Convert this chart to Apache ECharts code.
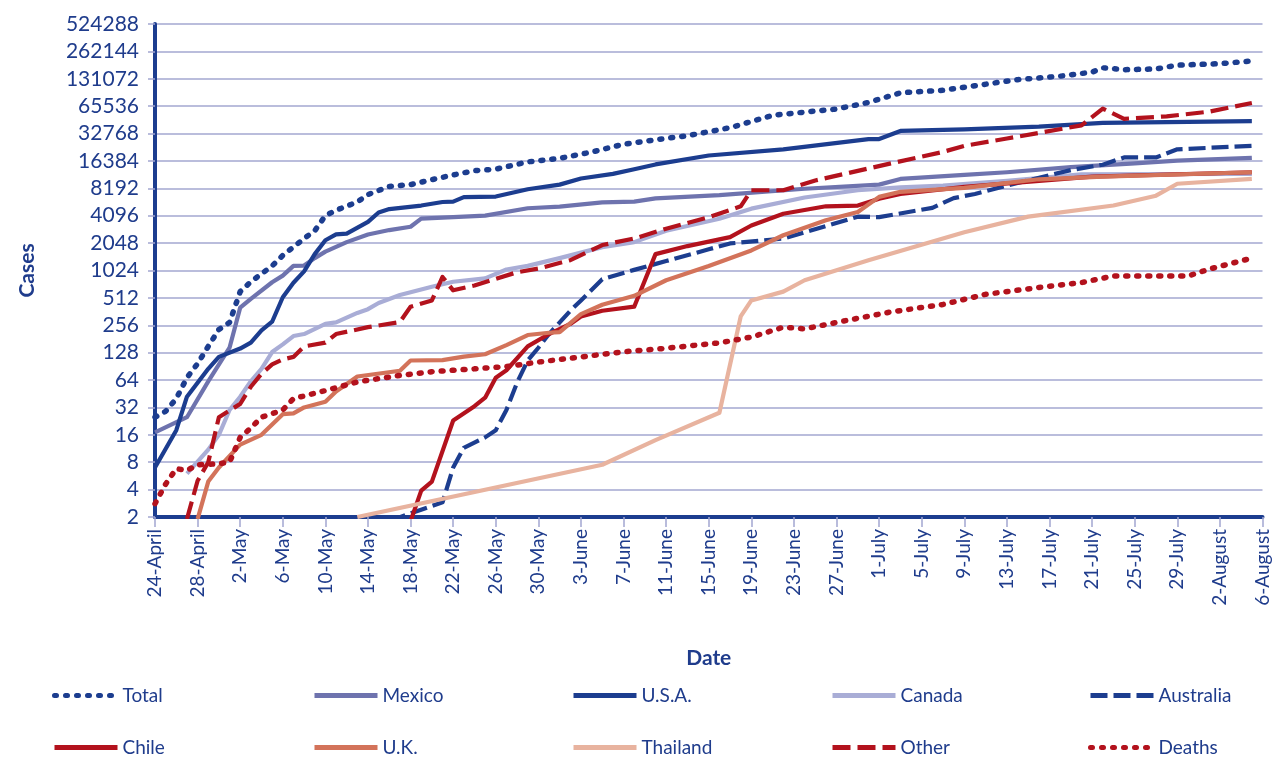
<!DOCTYPE html>
<html><head><meta charset="utf-8">
<script src="https://cdn.jsdelivr.net/npm/echarts@6/dist/echarts.min.js"></script>
<style>html,body{margin:0;padding:0;background:#fff}#c{width:1272px;height:759px}</style>
</head><body><div id="c"></div>
<script>
// Categories: daily dates from 24 April to 6 August
const monthNames = ['April', 'May', 'June', 'July', 'August'];
const monthLengths = [30, 31, 30, 31, 31];
const firstDay = 24;
const dayCount = 105;
const dates = [];
(function () {
  let m = 0, d = firstDay;
  for (let i = 0; i < dayCount; i++) {
    dates.push(d + '-' + monthNames[m]);
    d++;
    if (d > monthLengths[m]) { d = 1; m++; }
  }
})();

// y tick labels (powers of two)
const yTicks = [2,4,8,16,32,64,128,256,512,1024,2048,4096,8192,16384,32768,65536,131072,262144,524288];

// Series values: [day index from 24-April, cases]
const totalCases = [[0,25],[1,29],[2,40],[3,68],[4,97],[5,150],[6,230],[7,275],[8,600],[9,770],[11,1150],[12,1500],[14,2300],[15,2800],[16,4100],[17,4700],[19,5800],[20,7000],[22,8600],[24,9000],[26,10200],[28,11500],[30,12800],[32,13300],[35,16000],[38,17500],[41,20500],[44,25000],[47,28000],[50,31000],[54,38000],[58,52000],[64,61000],[67,72000],[70,92000],[74,98000],[77,110000],[81,128000],[85,140000],[88,155000],[89,173000],[91,165000],[94,168000],[96,185000],[100,192000],[103,206000]];
const mexicoCases = [[0,17],[3,25],[5,62],[7,145],[8,400],[9,500],[11,760],[12,900],[13,1150],[14,1160],[15,1400],[16,1650],[18,2100],[20,2550],[22,2850],[24,3100],[25,3800],[28,3950],[31,4100],[35,4950],[38,5150],[42,5750],[45,5850],[47,6350],[53,6900],[61,8100],[68,9000],[70,10400],[76,11500],[80,12300],[86,14000],[92,15400],[96,16500],[103,17700]];
const usaCases = [[0,7],[2,18],[3,42],[5,85],[6,115],[8,142],[9,165],[10,225],[11,280],[12,520],[13,750],[14,1000],[15,1550],[16,2200],[17,2550],[18,2600],[20,3500],[21,4450],[22,4850],[25,5300],[27,5800],[28,5850],[29,6550],[32,6650],[35,8000],[38,9000],[40,10500],[43,11800],[45,13300],[47,15000],[52,18800],[59,22000],[67,28500],[68,28500],[70,35000],[76,36500],[83,39000],[89,43000],[103,44800]];
const canadaCases = [[3,6],[5,11],[6,16],[7,30],[8,42],[9,62],[10,85],[11,130],[12,158],[13,195],[14,205],[16,265],[17,275],[19,350],[20,385],[21,450],[23,550],[26,680],[28,770],[31,840],[33,1050],[35,1150],[38,1400],[42,1850],[45,2100],[48,2800],[53,3800],[56,4900],[61,6500],[66,7800],[70,8400],[74,8800],[80,9900],[87,11700],[103,11800]];
const australiaCases = [[22,1.8],[24,2.2],[27,2.9],[28,7],[29,11.5],[31,15],[32,18],[33,30],[34,60],[35,105],[36,145],[37,205],[39,370],[40,480],[42,820],[45,1040],[48,1300],[52,1750],[54,2030],[59,2300],[66,4000],[68,3950],[73,5000],[75,6400],[77,7100],[81,9400],[86,13000],[89,14900],[91,17900],[94,17900],[96,22000],[103,24000]];
const chileCases = [[24,1.8],[25,3.9],[26,4.9],[28,23],[30,33],[31,41],[32,68],[33,82],[35,150],[37,205],[39,265],[40,320],[42,370],[45,410],[47,1550],[50,1900],[54,2380],[56,3200],[59,4300],[63,5200],[66,5300],[68,6300],[70,7100],[76,8500],[88,11000],[103,12300]];
const ukCases = [[4,1.9],[5,4.9],[6,7],[8,12.5],[10,16],[12,27],[13,27.5],[14,32],[16,37],[17,48],[19,70],[23,81],[24,105],[27,106],[29,116],[31,123],[33,155],[35,200],[37,212],[38,215],[40,340],[42,430],[45,540],[48,800],[52,1150],[56,1700],[59,2500],[63,3650],[66,4500],[68,6600],[70,7500],[76,8300],[83,10300],[89,11000],[103,12300]];
const thailandCases = [[19,2],[42,7.5],[47,14],[53,28],[55,320],[56,480],[59,600],[61,800],[67,1330],[76,2700],[82,4000],[90,5300],[94,6800],[96,9200],[103,10400]];
const otherCases = [[3,1.9],[4,5],[5,8],[6,25],[8,35],[9,54],[10,75],[11,95],[12,108],[13,115],[14,150],[16,165],[17,205],[20,244],[23,278],[24,410],[26,480],[27,870],[28,620],[30,700],[32,830],[34,980],[36,1075],[39,1330],[42,1950],[45,2300],[48,2950],[52,3950],[55,5200],[56,7800],[59,7800],[62,10000],[69,15300],[74,20600],[76,24000],[80,28900],[87,40300],[89,61600],[91,47600],[95,50700],[99,57000],[103,71000]];
const deathCounts = [[0,2.8],[1,4.6],[2,6.8],[3,6.5],[4,7.5],[6,7.7],[7,8],[8,15],[9,19],[10,25],[12,30],[13,40],[16,49],[19,61],[23,72],[26,79],[30,85],[33,90],[36,101],[39,111],[44,131],[48,143],[53,164],[56,190],[59,244],[61,234],[65,290],[69,357],[74,434],[78,560],[83,666],[87,755],[90,890],[97,890],[99,1060],[103,1400]];

const seriesNames = ['Total','Mexico','U.S.A.','Canada','Australia','Chile','U.K.','Thailand','Other','Deaths'];

const BLUE = '#1c3d8f', MEX = '#6e73ae', CAN = '#a9add6', RED = '#b3121d', UKC = '#d3735a', THA = '#e8b39f';
const TEXT = '#1f3c8c', GRIDC = '#a3a7d1';
const FONT = 'Lato';

function mk(name, arr, color, dash, width, cap) {
  return {
    name: name, type: 'line', symbol: 'none', smooth: false,
    data: arr.map(function (p) { return [p[0], Math.log2(p[1])]; }),
    lineStyle: { color: color, width: width, type: dash, cap: cap || 'butt', join: 'round' },
    itemStyle: { color: color },
    emphasis: { disabled: true }
  };
}
const DOT = [2, 9];
const series = [
  mk('Total', totalCases, BLUE, DOT, 5.5, 'round'),
  mk('Mexico', mexicoCases, MEX, 'solid', 4.2),
  mk('U.S.A.', usaCases, BLUE, 'solid', 4.2),
  mk('Canada', canadaCases, CAN, 'solid', 4.2),
  mk('Australia', australiaCases, BLUE, [17, 6], 4.2),
  mk('Chile', chileCases, RED, 'solid', 4.2),
  mk('U.K.', ukCases, UKC, 'solid', 4.2),
  mk('Thailand', thailandCases, THA, 'solid', 4.2),
  mk('Other', otherCases, RED, [18, 7], 4.2),
  mk('Deaths', deathCounts, RED, DOT, 5.5, 'round')
];

const legendCols = [52, 312, 571, 830, 1088];
const legendRows = [686, 738];
const legends = seriesNames.map(function (n, i) {
  return {
    data: [n], left: legendCols[i % 5], top: legendRows[Math.floor(i / 5)],
    itemWidth: 63, itemHeight: 16, itemGap: 0, padding: 0,
    selectedMode: false,
    itemStyle: { opacity: 0, borderWidth: 0 },
    lineStyle: { width: 5 },
    textStyle: { color: TEXT, fontSize: 19, fontFamily: FONT, padding: [0, 0, 0, 0] }
  };
});

const chart = echarts.init(document.getElementById('c'), null, { renderer: 'canvas' });
chart.setOption({
  animation: false,
  backgroundColor: '#ffffff',
  textStyle: { fontFamily: FONT },
  grid: { left: 155, right: 8, top: 24, bottom: 242, containLabel: false },
  legend: legends,
  xAxis: {
    type: 'category', data: dates, boundaryGap: false,
    name: 'Date', nameLocation: 'middle', nameGap: 131,
    nameTextStyle: { color: TEXT, fontSize: 21, fontWeight: 'bold', fontFamily: FONT },
    axisLine: { show: true, lineStyle: { color: BLUE, width: 4 } },
    axisTick: { show: true, interval: 3, length: 10, lineStyle: { color: GRIDC, width: 1.5 } },
    axisLabel: { interval: 3, rotate: 90, margin: 12, color: TEXT, fontSize: 19, fontFamily: FONT },
    splitLine: { show: false }
  },
  yAxis: {
    type: 'value', min: 1, max: 19, interval: 1,
    name: 'Cases', nameLocation: 'middle', nameGap: 117, nameRotate: 90,
    nameTextStyle: { color: TEXT, fontSize: 21, fontWeight: 'bold', fontFamily: FONT },
    axisLine: { show: true, lineStyle: { color: BLUE, width: 4 } },
    axisTick: { show: true, length: 7, lineStyle: { color: GRIDC, width: 1.5 } },
    axisLabel: {
      margin: 16, color: TEXT, fontSize: 21, fontFamily: FONT,
      formatter: function (v) { return String(yTicks[Math.round(v) - 1]); }
    },
    splitLine: { show: true, lineStyle: { color: GRIDC, width: 1.5 } }
  },
  series: series
});
</script>
</body></html>
